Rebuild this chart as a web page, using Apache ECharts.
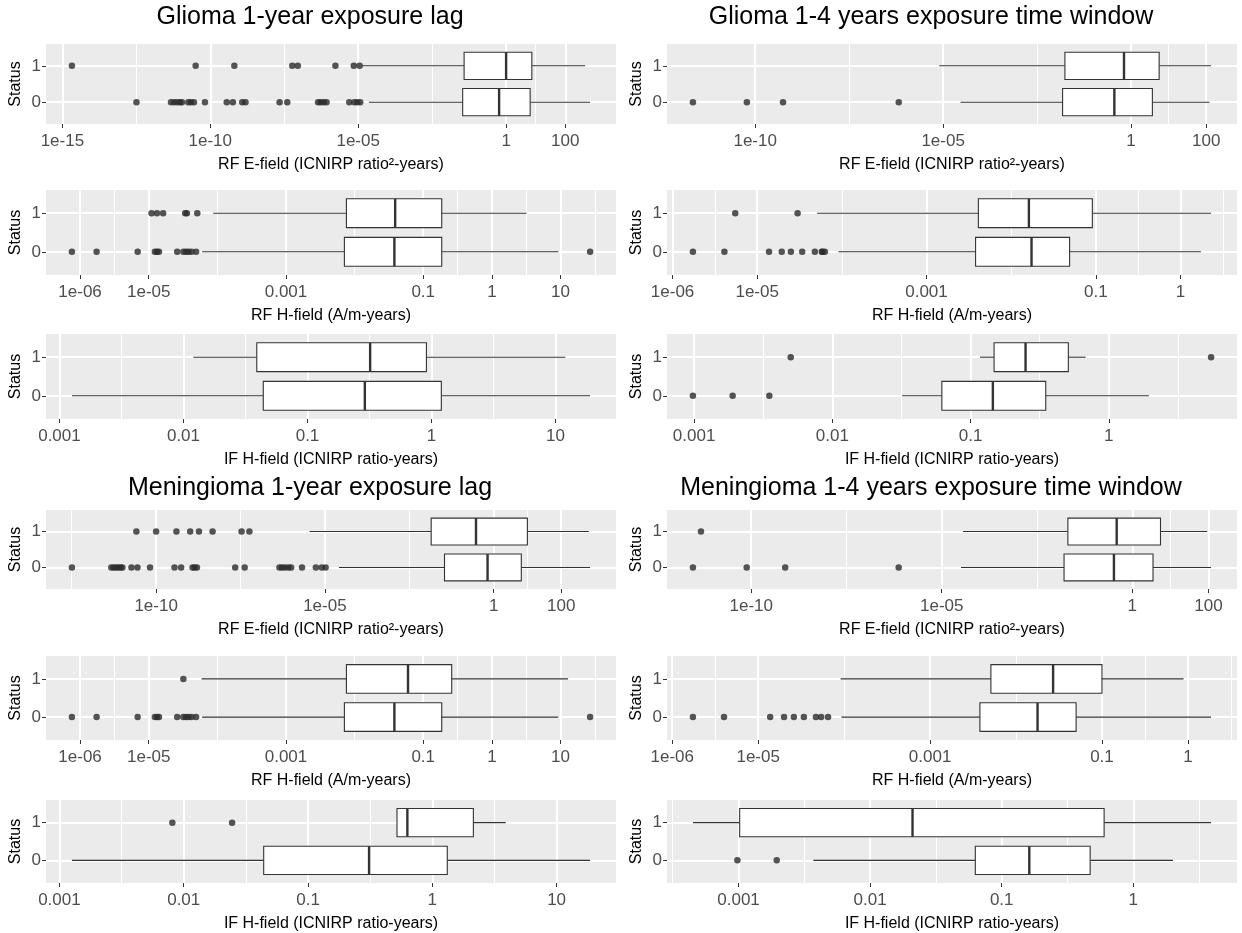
<!DOCTYPE html>
<html><head><meta charset="utf-8">
<script src="https://cdn.jsdelivr.net/npm/echarts@6/dist/echarts.min.js"></script>
<style>html,body{margin:0;padding:0;background:#fff}#c{width:1242px;height:933px}</style>
</head><body><div id="c"></div>
<script>
// ---------- text ----------
const statusCats = ['0', '1'];
const headings = ['Glioma 1-year exposure lag', 'Glioma 1-4 years exposure time window',
  'Meningioma 1-year exposure lag', 'Meningioma 1-4 years exposure time window'];
const titleE = 'RF E-field (ICNIRP ratio²-years)';
const titleH = 'RF H-field (A/m-years)';
const titleIF = 'IF H-field (ICNIRP ratio-years)';

// ---------- tick labels ----------
const ticksE15 = ['1e-15', '1e-10', '1e-05', '1', '100'];
const ticksE10 = ['1e-10', '1e-05', '1', '100'];
const ticksH10 = ['1e-06', '1e-05', '0.001', '0.1', '1', '10'];
const ticksH1 = ['1e-06', '1e-05', '0.001', '0.1', '1'];
const ticksIF10 = ['0.001', '0.01', '0.1', '1', '10'];
const ticksIF1 = ['0.001', '0.01', '0.1', '1'];

// ---------- data: [lower whisker, Q1, median, Q3, upper whisker], outliers ----------
// Glioma, 1-year lag, RF E-field
const gLagE_s0 = [2.3e-5, 0.034, 0.58, 6.5, 690];
const gLagE_s1 = [1.4e-5, 0.038, 1.0, 7.4, 470];
const gLagE_o0 = [3.2e-13, 4.7e-12, 6.0e-12, 7.6e-12, 9.5e-12, 1.1e-11, 1.8e-11, 2.2e-11, 2.8e-11, 6.6e-11,
  3.6e-10, 5.8e-10, 1.2e-9, 1.55e-9, 2.2e-8, 4.0e-8, 4.4e-7, 5.4e-7, 6.8e-7, 8.5e-7, 5.0e-6, 7.4e-6, 9.3e-6, 1.17e-5];
const gLagE_o1 = [2.1e-15, 3.2e-11, 6.5e-10, 5.9e-8, 9.1e-8, 1.7e-6, 7.1e-6, 1.12e-5];
// Glioma, 1-4 years window, RF E-field
const gWinE_s0 = [2.9e-5, 0.0151, 0.36, 3.7, 123];
const gWinE_s1 = [7.9e-6, 0.0174, 0.65, 5.6, 135];
const gWinE_o0 = [2.2e-12, 6.0e-11, 5.5e-10, 6.6e-7];
const gWinE_o1 = [];
// Glioma, 1-year lag, RF H-field
const gLagH_s0 = [6.0e-5, 0.0071, 0.038, 0.186, 9.3];
const gLagH_s1 = [8.7e-5, 0.0076, 0.039, 0.186, 3.2];
const gLagH_o0 = [7.6e-7, 1.74e-6, 6.9e-6, 1.23e-5, 1.32e-5, 1.41e-5, 2.6e-5, 3.2e-5, 3.5e-5, 3.8e-5, 4.2e-5, 4.9e-5, 27];
const gLagH_o1 = [1.1e-5, 1.32e-5, 1.62e-5, 3.4e-5, 3.6e-5, 5.1e-5];
// Glioma, 1-4 years window, RF H-field
const gWinH_s0 = [9.1e-5, 0.0038, 0.0174, 0.049, 1.74];
const gWinH_s1 = [5.1e-5, 0.0041, 0.0162, 0.091, 2.3];
const gWinH_o0 = [1.74e-6, 4.1e-6, 1.38e-5, 1.95e-5, 2.5e-5, 3.4e-5, 4.8e-5, 5.8e-5, 5.9e-5, 6.3e-5];
const gWinH_o1 = [5.5e-6, 3.0e-5];
// Glioma, 1-year lag, IF H-field
const gLagIF_s0 = [0.00126, 0.044, 0.29, 1.2, 19];
const gLagIF_s1 = [0.012, 0.039, 0.32, 0.91, 12];
const gLagIF_o0 = [];
const gLagIF_o1 = [];
// Glioma, 1-4 years window, IF H-field
const gWinIF_s0 = [0.032, 0.062, 0.145, 0.35, 1.95];
const gWinIF_s1 = [0.117, 0.148, 0.25, 0.51, 0.68];
const gWinIF_o0 = [0.00098, 0.0019, 0.0035];
const gWinIF_o1 = [0.005, 5.5];
// Meningioma, 1-year lag, RF E-field
const mLagE_s0 = [2.6e-5, 0.035, 0.66, 6.6, 720];
const mLagE_s1 = [3.5e-6, 0.0141, 0.30, 10, 660];
const mLagE_o0 = [3.2e-13, 4.7e-12, 5.5e-12, 6.5e-12, 7.6e-12, 8.9e-12, 1.0e-11, 1.86e-11, 2.8e-11, 6.6e-11,
  3.5e-10, 5.5e-10, 1.2e-9, 1.38e-9, 1.62e-9, 2.2e-8, 4.2e-8, 4.5e-7, 5.4e-7, 6.6e-7, 8.3e-7, 1.0e-6,
  2.1e-6, 5.4e-6, 8.1e-6, 1.05e-5];
const mLagE_o1 = [2.6e-11, 1.0e-10, 4.0e-10, 1.02e-9, 1.86e-9, 4.7e-9, 3.4e-8, 5.8e-8];
// Meningioma, 1-4 years window, RF E-field
const mWinE_s0 = [3.2e-5, 0.0162, 0.33, 3.5, 117];
const mWinE_s1 = [3.6e-5, 0.0204, 0.39, 5.5, 93];
const mWinE_o0 = [2.95e-12, 7.6e-11, 7.8e-10, 7.4e-7];
const mWinE_o1 = [4.8e-12];
// Meningioma, 1-year lag, RF H-field
const mLagH_s0 = [6.0e-5, 0.0071, 0.038, 0.186, 9.3];
const mLagH_s1 = [5.9e-5, 0.0076, 0.060, 0.26, 12.9];
const mLagH_o0 = [7.6e-7, 1.74e-6, 6.9e-6, 1.23e-5, 1.32e-5, 1.41e-5, 2.6e-5, 3.2e-5, 3.5e-5, 3.8e-5, 4.2e-5, 4.9e-5, 27];
const mLagH_o1 = [3.2e-5];
// Meningioma, 1-4 years window, RF H-field
const mWinH_s0 = [9.3e-5, 0.0038, 0.0178, 0.05, 1.86];
const mWinH_s1 = [9.1e-5, 0.0051, 0.027, 0.1, 0.89];
const mWinH_o0 = [1.74e-6, 4.0e-6, 1.38e-5, 2.0e-5, 2.6e-5, 3.4e-5, 4.7e-5, 5.4e-5, 6.5e-5];
const mWinH_o1 = [];
// Meningioma, 1-year lag, IF H-field
const mLagIF_s0 = [0.00126, 0.044, 0.31, 1.32, 18.6];
const mLagIF_s1 = [0.52, 0.52, 0.63, 2.14, 3.9];
const mLagIF_o0 = [];
const mLagIF_o1 = [0.0081, 0.0245];
// Meningioma, 1-4 years window, IF H-field
const mWinIF_s0 = [0.0037, 0.063, 0.162, 0.47, 2.0];
const mWinIF_s1 = [0.00045, 0.00102, 0.021, 0.60, 3.9];
const mWinIF_o0 = [0.00098, 0.00195];
const mWinIF_o1 = [];

// ---------- layout ----------
const FONT = '"Liberation Sans", Arial, sans-serif';
const colLeft = [46, 667];
const panelW = 570;
const rowBox = [[44, 80], [190, 85], [334, 85], [510, 79], [656, 84], [800, 85]];
const headPos = [[310, 5], [931, 5], [310, 476], [931, 476]];

const panels = [
  { s0: gLagE_s0, s1: gLagE_s1, o0: gLagE_o0, o1: gLagE_o1, ticks: ticksE15, title: titleE, r: 0, c: 0 },
  { s0: gWinE_s0, s1: gWinE_s1, o0: gWinE_o0, o1: gWinE_o1, ticks: ticksE10, title: titleE, r: 0, c: 1 },
  { s0: gLagH_s0, s1: gLagH_s1, o0: gLagH_o0, o1: gLagH_o1, ticks: ticksH10, title: titleH, r: 1, c: 0 },
  { s0: gWinH_s0, s1: gWinH_s1, o0: gWinH_o0, o1: gWinH_o1, ticks: ticksH1, title: titleH, r: 1, c: 1 },
  { s0: gLagIF_s0, s1: gLagIF_s1, o0: gLagIF_o0, o1: gLagIF_o1, ticks: ticksIF10, title: titleIF, r: 2, c: 0 },
  { s0: gWinIF_s0, s1: gWinIF_s1, o0: gWinIF_o0, o1: gWinIF_o1, ticks: ticksIF1, title: titleIF, r: 2, c: 1 },
  { s0: mLagE_s0, s1: mLagE_s1, o0: mLagE_o0, o1: mLagE_o1, ticks: ticksE10, title: titleE, r: 3, c: 0 },
  { s0: mWinE_s0, s1: mWinE_s1, o0: mWinE_o0, o1: mWinE_o1, ticks: ticksE10, title: titleE, r: 3, c: 1 },
  { s0: mLagH_s0, s1: mLagH_s1, o0: mLagH_o0, o1: mLagH_o1, ticks: ticksH10, title: titleH, r: 4, c: 0 },
  { s0: mWinH_s0, s1: mWinH_s1, o0: mWinH_o0, o1: mWinH_o1, ticks: ticksH1, title: titleH, r: 4, c: 1 },
  { s0: mLagIF_s0, s1: mLagIF_s1, o0: mLagIF_o0, o1: mLagIF_o1, ticks: ticksIF10, title: titleIF, r: 5, c: 0 },
  { s0: mWinIF_s0, s1: mWinIF_s1, o0: mWinIF_o0, o1: mWinIF_o1, ticks: ticksIF1, title: titleIF, r: 5, c: 1 }
];

const L = v => Math.log10(v);
const grids = [], xAxes = [], yAxes = [], series = [];

function renderBox(params, api) {
  const y = api.value(0);
  const pLo = api.coord([api.value(1), y]);
  const pQ1 = api.coord([api.value(2), y]);
  const pMd = api.coord([api.value(3), y]);
  const pQ3 = api.coord([api.value(4), y]);
  const pHi = api.coord([api.value(5), y]);
  const h = api.size([0, 0.75])[1];
  const ls = { stroke: '#333333', lineWidth: 1.1, fill: null };
  return {
    type: 'group',
    children: [
      { type: 'line', shape: { x1: pLo[0], y1: pLo[1], x2: pQ1[0], y2: pQ1[1] }, style: ls },
      { type: 'line', shape: { x1: pQ3[0], y1: pQ3[1], x2: pHi[0], y2: pHi[1] }, style: ls },
      { type: 'rect', shape: { x: pQ1[0], y: pQ1[1] - h / 2, width: pQ3[0] - pQ1[0], height: h },
        style: { fill: '#ffffff', stroke: '#333333', lineWidth: 1.1 } },
      { type: 'line', shape: { x1: pMd[0], y1: pMd[1] - h / 2, x2: pMd[0], y2: pMd[1] + h / 2 },
        style: { stroke: '#333333', lineWidth: 2.4 } }
    ]
  };
}

panels.forEach((p, i) => {
  const all = [...p.s0, ...p.s1, ...p.o0, ...p.o1].map(L);
  const lo = Math.min(...all), hi = Math.max(...all);
  const pad = (hi - lo) * 0.05;
  const xmin = lo - pad, xmax = hi + pad;
  const majors = p.ticks.map(t => L(Number(t)));
  const bd = majors[1] - majors[0];
  const b = majors.slice();
  if (xmin < b[0]) b.unshift(b[0] - bd);
  if (xmax > b[b.length - 1]) b.push(b[b.length - 1] + bd);
  const minors = [];
  for (let k = 0; k < b.length - 1; k++) minors.push((b[k] + b[k + 1]) / 2);
  const minorIn = minors.filter(m => m > xmin && m < xmax);

  const [top, height] = rowBox[p.r];
  grids.push({ left: colLeft[p.c], top: top, width: panelW, height: height, show: true,
    backgroundColor: '#EBEBEB', borderWidth: 0 });

  xAxes.push({
    type: 'value', gridIndex: i, min: xmin, max: xmax, position: 'bottom',
    axisLine: { show: false, onZero: false },
    axisTick: { show: true, length: 4, customValues: majors, lineStyle: { color: '#333333', width: 1 } },
    axisLabel: { customValues: majors, color: '#4D4D4D', fontSize: 17, fontFamily: FONT, margin: 9,
      formatter: v => {
        let best = 0;
        majors.forEach((m, k) => { if (Math.abs(m - v) < Math.abs(majors[best] - v)) best = k; });
        return p.ticks[best];
      } },
    splitLine: { show: true, lineStyle: { color: '#ffffff', width: 2 } },
    name: p.title, nameLocation: 'middle', nameGap: 33,
    nameTextStyle: { color: '#000000', fontSize: 16, fontFamily: FONT }
  });
  xAxes.push({
    type: 'value', gridIndex: i, min: xmin, max: xmax, position: 'bottom',
    axisLine: { show: false, onZero: false },
    axisTick: { show: false, customValues: minorIn },
    axisLabel: { show: false },
    splitLine: { show: true, lineStyle: { color: '#ffffff', width: 1 } }
  });
  yAxes.push({
    type: 'value', gridIndex: i, min: 0.4, max: 2.6, position: 'left',
    axisLine: { show: false, onZero: false },
    axisTick: { show: true, length: 4, customValues: [1, 2], lineStyle: { color: '#333333', width: 1 } },
    axisLabel: { customValues: [1, 2], color: '#4D4D4D', fontSize: 17, fontFamily: FONT, margin: 5,
      formatter: v => statusCats[Math.round(v) - 1] },
    splitLine: { show: true, lineStyle: { color: '#ffffff', width: 2 } },
    name: 'Status', nameLocation: 'middle', nameRotate: 90, nameGap: 22,
    nameTextStyle: { color: '#000000', fontSize: 16, fontFamily: FONT }
  });

  series.push({
    type: 'custom', xAxisIndex: 2 * i, yAxisIndex: i, renderItem: renderBox, silent: true, z: 3,
    encode: { x: [1, 2, 3, 4, 5], y: 0 },
    data: [[1, ...p.s0.map(L)], [2, ...p.s1.map(L)]]
  });
  series.push({
    type: 'scatter', xAxisIndex: 2 * i, yAxisIndex: i, symbol: 'circle', symbolSize: 6.5, silent: true, z: 4,
    itemStyle: { color: '#2b2b2b' },
    data: [...p.o0.map(v => [L(v), 1]), ...p.o1.map(v => [L(v), 2])]
  });
});

const chart = echarts.init(document.getElementById('c'), null, { renderer: 'canvas' });
chart.setOption({
  backgroundColor: '#ffffff',
  animation: false,
  title: headings.map((t, k) => ({
    text: t, left: headPos[k][0], top: headPos[k][1], textAlign: 'center', padding: 0,
    textStyle: { color: '#000000', fontSize: 25, fontWeight: 'normal', fontFamily: FONT }
  })),
  grid: grids,
  xAxis: xAxes,
  yAxis: yAxes,
  series: series
});
</script>
</body></html>
